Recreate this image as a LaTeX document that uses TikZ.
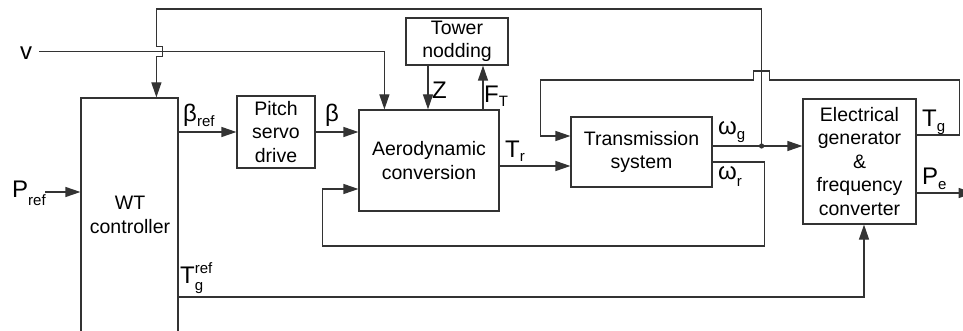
\documentclass[tikz,border=0pt]{standalone}
\usepackage{fontspec}
\setmainfont{Liberation Sans}
\usetikzlibrary{arrows.meta}
\colorlet{linec}{black!80}
\newcommand\boxfont{\fontsize{19.5}{23.5}\selectfont}
\newcommand\Lbig{\fontsize{24}{24}\selectfont}
\newcommand\Lsmall{\fontsize{15}{15}\selectfont}
\newcommand\Sub[3]{{\Lbig #1}\raisebox{#3}{\Lsmall #2}}
\begin{document}
\begin{tikzpicture}[x=1pt,y=-1pt,
  box/.style={draw=linec, line width=1.2pt, inner sep=0pt, align=center, font=\boxfont},
  conn/.style={draw=linec, line width=1.2pt},
  arr/.style={conn, -{Triangle[length=15pt,width=10pt]}},
  lab/.style={inner sep=0pt, anchor=base west}]
\useasboundingbox (0,0) rectangle (963,331);
\clip (0,0) rectangle (963,331);
% blocks
\node[box, minimum width=97pt, minimum height=252pt] (wt) at (129.5,224) {};
\node[align=center, font=\boxfont, inner sep=0pt] (wttext) at (130,215) {WT\\controller};
\node[box, minimum width=78pt, minimum height=72pt] (pitch) at (276,132) {Pitch\\servo\\drive};
\node[box, minimum width=140pt, minimum height=101pt] (aero) at (429,160.5) {Aerodynamic\\conversion};
\node[box, minimum width=102pt, minimum height=47pt] (tower) at (457,41.5) {Tower\\nodding};
\node[box, minimum width=141pt, minimum height=70pt] (trans) at (641.5,152) {Transmission\\system};
\node[box, minimum width=113pt, minimum height=125pt] (gen) at (859.5,161.5) {Electrical\\generator\\\&\\frequency\\converter};
% ports
\coordinate (vstart) at (39,51.5);
\coordinate (pin) at ([yshift=32pt]wt.west);
\coordinate (wtin) at ([xshift=76pt]wt.north west);
\coordinate (vin) at ([xshift=26pt]aero.north west);
\coordinate (afb) at ([yshift=-28.5pt]aero.west);
\coordinate (trout) at ([yshift=-5.5pt]aero.east);
\coordinate (tin) at ([yshift=16pt]trans.west);
\coordinate (wg) at ([yshift=6pt]trans.east);
\coordinate (wr) at ([yshift=-10pt]trans.east);
\coordinate (j) at ([xshift=49pt]wg);
\coordinate (tg) at ([yshift=26.5pt]gen.east);
\coordinate (pe) at ([yshift=-31.5pt]gen.east);
\coordinate (tgr) at ([yshift=-73pt]wt.east);
\coordinate (zx) at ([xshift=-29pt]tower.south);
\coordinate (fx) at ([xshift=26pt]tower.south);
% connectors
\draw[arr] (wt.east |- pitch.west) -- (pitch.west);
\draw[arr] (pitch.east) -- (aero.west |- pitch.east);
\draw[arr] (vstart) -| (vin);
\draw[arr] (zx) -- (zx |- aero.north);
\draw[arr] (fx |- aero.north) -- (fx);
\draw[arr] (trout) -- (trout -| trans.west);
\draw[arr] (wg) -- (wg -| gen.west);
\fill[linec] (j) circle (2.6);
\draw[arr] (j) -- ++(0,-137) -| ([yshift=51pt]wtin) -- ++(6,0) -- ++(0,10) -- ++(-6,0) -- (wtin);
\draw[arr] (wr) -- ++(52,0) -- ++(0,84) -| ([xshift=-36pt]afb) -- (afb);
\draw[arr] (tg) -- ++(43,0) -- ++(0,-55) -- ++(-190,0) -- ++(0,-9) -- ++(-16,0) -- ++(0,9) -| ([xshift=-30pt]tin) -- (tin);
\draw[arr] ([xshift=-35pt]pin) -- (pin);
\draw[arr] (tgr) -| ([xshift=4.5pt]gen.south);
\draw[arr] (pe) -- ++(57,0);
% labels
\node[lab] (lv) at (20,60) {\Lbig v};
\node[lab] (lpref) at (12,197) {\Sub{P}{ref}{-8pt}};
\node[lab] (lbref) at (183,122) {\Sub{β}{ref}{-5pt}};
\node[lab] (lb) at (325,122) {\Lbig β};
\node[lab] (lz) at (432,99) {\Lbig Z};
\node[lab] (lft) at (484,103) {\Sub{F}{T}{-4pt}};
\node[lab] (ltr) at (505,158) {\Sub{T}{r}{-4pt}};
\node[lab] (lwg) at (718,135) {\Sub{ω}{g}{-5pt}};
\node[lab] (lwr) at (718,180) {\Sub{ω}{r}{-6pt}};
\node[lab] (ltg) at (922,127) {\Sub{T}{g}{-5pt}};
\node[lab] (lpe) at (922,185) {\Sub{P}{e}{-5pt}};
\node[lab] (ltgref) at (180,283) {{\Lbig T}\rlap{\raisebox{-7pt}{\Lsmall g}}\raisebox{10pt}{\Lsmall ref}};
\end{tikzpicture}
\end{document}
